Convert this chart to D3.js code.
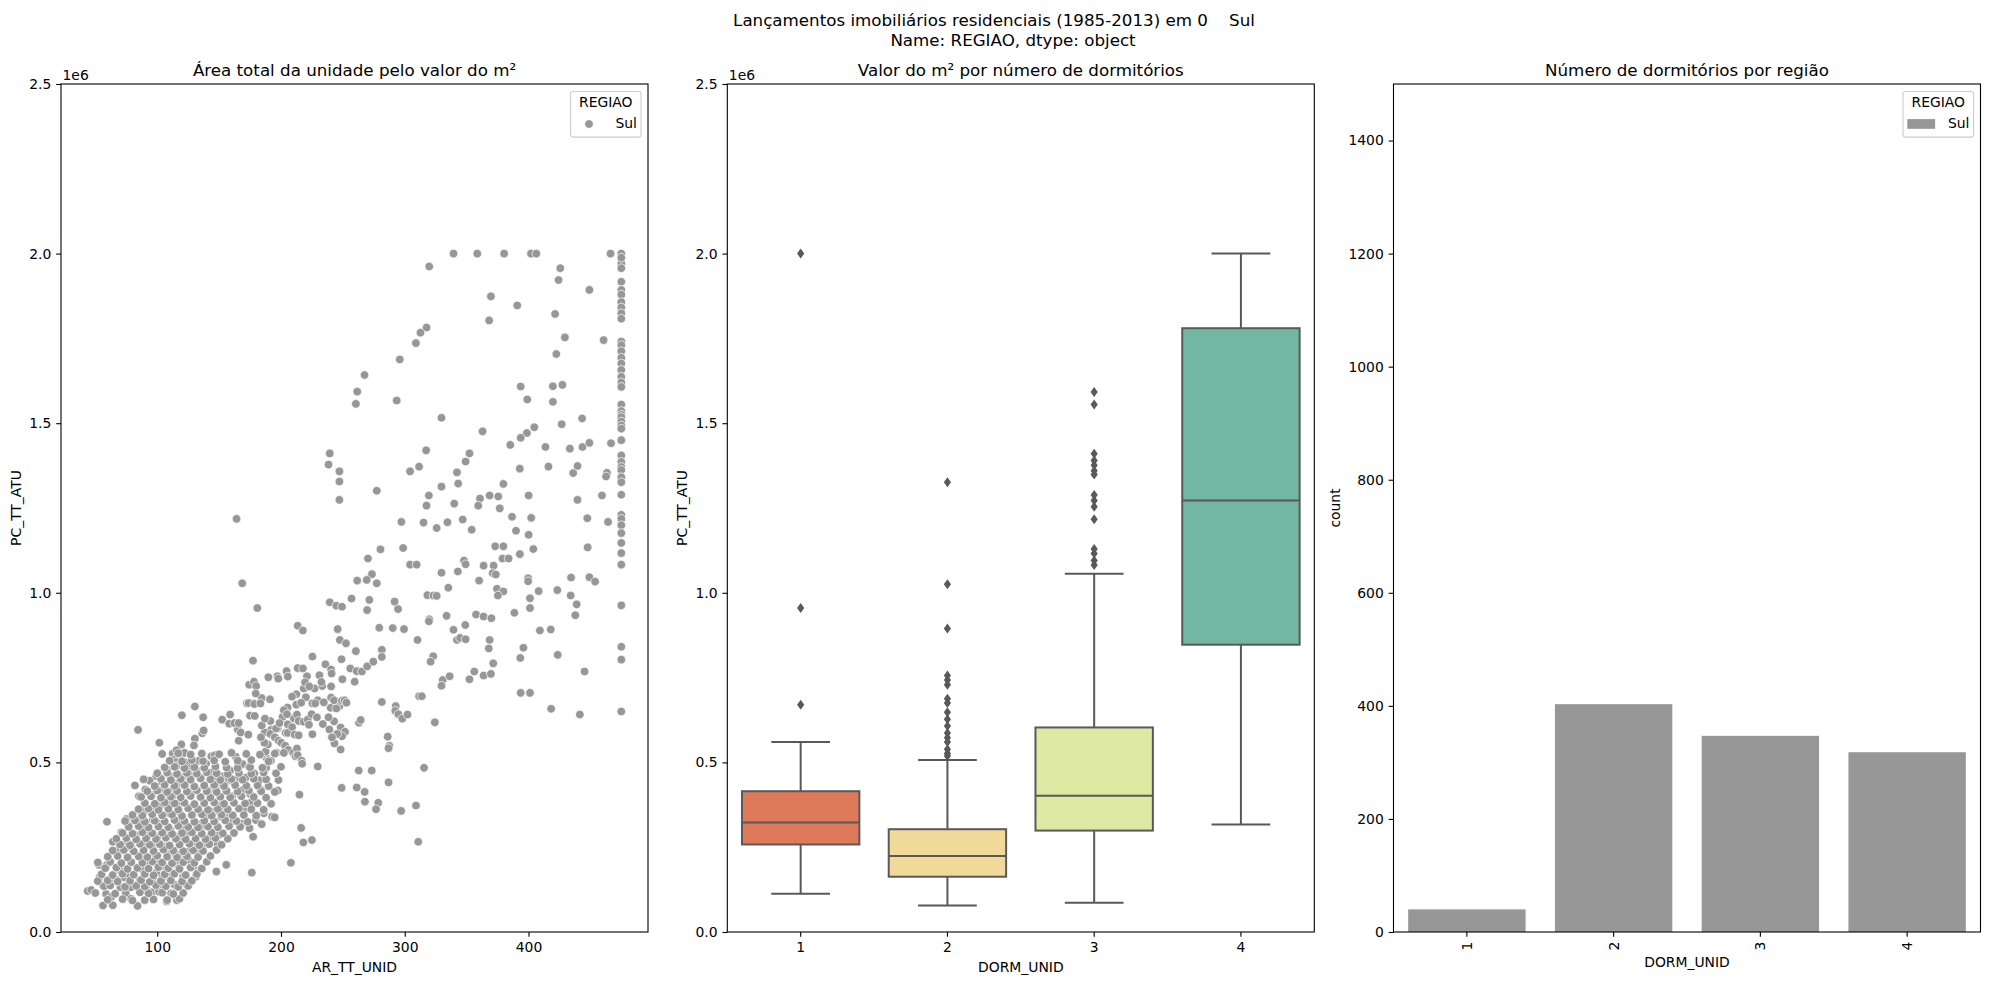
<!DOCTYPE html>
<html><head><meta charset="utf-8">
<script src="https://cdn.jsdelivr.net/npm/d3@7"></script>
<style>
body{margin:0;background:#fff;}
svg text{font-family:"DejaVu Sans","Liberation Sans",sans-serif;fill:#000;}
</style></head><body>
<svg id="chart" width="1989" height="985"></svg>
<script>
// ---------------- DATA ----------------
const suptitleLines = ["Lançamentos imobiliários residenciais (1985-2013) em 0    Sul", "Name: REGIAO, dtype: object"];
const panelTitles = ["Área total da unidade pelo valor do m²", "Valor do m² por número de dormitórios", "Número de dormitórios por região"];
const regionName = "Sul";
const legendTitle = "REGIAO";

// Scatter: AR_TT_UNID (m²) vs PC_TT_ATU (in millions, axis offset 1e6) - sparse part
const arTtUnid = [
339.4,358.6,380.3,402,406.3,466.3,319.8,425.7,424.3,449.2,369.6,390.9,421.5,368.2,317.6,312.7,309,429.4,460.7,422.5,
296,267.5,261.6,260.5,393.7,419.7,427.4,293.5,399,419.7,329.7,443.3,426.8,404.7,398.7,393.7,362.9,385.3,413.7,433.4,
443.6,449.2,466.7,317.3,352.3,349.2,239.4,238.4,247.2,247.2,247.2,304.3,311.6,342.2,343.2,393,416.1,436.1,439.6,463.4,
462.7,379.7,329.7,277.4,319.5,368.6,400.1,459.4,439.6,360.8,375.6,317.6,340,359.4,376.8,386.7,402.2,447.5,464.3,346.8,
334.5,315.2,297.3,325.8,354.1,389.9,400.1,164.1,298.7,280.4,373.1,379.7,403.9,447.8,270.3,304.3,309.6,347.9,349.2,379,
383.9,393,371.8,363.7,329.7,342.9,371.1,373.6,273.5,269.3,277.4,261.6,360.1,399.7,399.7,434.4,449.2,453.8,168.7,335.2,
374.5,379.7,408.2,375.3,318.3,323.2,423.3,434.1,401.2,401.2,438.9,437.8,180.9,239.4,244.7,249.3,257,271.4,269.6,291.8,
294.6,325.8,357.6,363.7,370,333.8,319.8,319.5,348.9,388.6,213.5,217.7,245.8,279.4,290.3,299.4,339.4,409.2,418,247.6,
252.5,281.5,310.3,342.2,344.7,349.2,368.6,367.9,395.9,225.4,177.4,248.9,260.5,281.5,323,320.9,371.5,393.4,423.6,213.5,
217.7,235.9,240.5,256,261.2,265.4,269.6,274.6,204.5,197.1,189.8,221,231.1,240.9,249.6,259.5,356.2,363.7,369.6,352.3,
445.3,330.7,336.3,329.7,174.3,178.2,179.9,218.4,227.1,233.4,240.5,219.5,232.7,212.4,220.1,222.9,240.5,229.7,234.6,184.4,
178.2,172.6,179.6,205.3,212.4,208.9,216.3,225.4,249.3,247.2,281.5,292.7,311.6,313.8,393.7,401.2,292.4,294.9,298,302.2,
324.3,418.3,441.5,210.4,201.2,191.4,197.4,203.8,192.1,186.8,233.8,242.9,248.2,239.1,251.7,263,264.4,249.3,243.2,248.2,
286.2,287.6,286.9,315.6,262.8,273.3,286.9,267.6,249,261.2,214.9,197.4,165.1,165.8,167.5,173.6,163.4,165.5,169,174.3,
178.5,170.4,164.8,182.4,183.4,175,168.3,171.4,158.9,153.2,157.4,160.5,188.3,188,185.5,187.6,191.8,189.4,186.6,183.8,
184.5,187,191.4,196,198.8,202.3,204.8,205.5,205.5,209,212.9,214.3,211.1,195,198.1,200.2,203.4,205.8,210,211.8,
212.9,213.5,216.7,217.1,229.7,196.3,202.3,214.3,218.4,221.6,224.7,227.6,229,222.6,225.4,238.4,240.2,242.9,244.7,249.3,
251.4,252.9,245.4,241.2,84.5,101.7,119.9,119.5,130.4,137.1,136.4,137.5,130.4,129.7,119.2,112.5,113.9,114.9,115.6,122,
143.7,146.6,152.5,158.9,158.2,162.4,165.8,175,178.8,173.9,178.5,183.4,191.1,197.8,205.5,95.4,101.7,107.7,113.2,112.2,
116.7,122.7,120.3,126.2,131.4,135.3,137.8,141.3,144.1,149,152.2,147.3,155.3,160.5,135.3,127.4,133.6,139.5,123.7,127.2,
107.9,99.2,93.9,103.7,110.3,90.4,85.2,115.6,
43.8,46.7,52.9,59.4,53.6,56.2,58.7,56.2,64.1,63,59.4,64.1,71,75,76.4,69.2,75.7,79.3,69.6,67.4,
62,73.2,77.5,70.3,74.6,78.9,81.2,78.6,84.1,89.9,85.9,88,87.7,84.4,90.2,85.9,89.9,82.2,88.4,95.7,
97.1,102.2,96.4,101.4,94.6,100,97.5,93.8,99.3,99.3,97.5,102.2,92,95.7,101.4,105.4,104.3,105.1,108,106.2,
110.5,110.1,112,119.2,117.4,115.9,119.2,115.6,120.7,118.1,114.5,121.4,114.5,117.4,112.3,121,114.1,111.2,115.9,107.6,
125.4,129.3,131.2,123.9,128.3,131.9,125.4,130.8,126.8,133.7,137.3,139.1,142.8,139.9,145.7,148.6,151.8,151.8,150,155.4,
158,160.1,148.6,147.8,155.8,169.9,168.5,174.6,177.5,175.4,179.7,186.2,192.8,194.9,184.4,176.4,216.3,218.1,225,208,
267.8,278.6,276.8,297.1,309.1,310.9,
475,475,475,475,475,475,475,475,475,475,475,475,475,475,475,475,475,475,475,475,
475,475,475,475,475,475,475,475,475,475,475,475,475,475,475,475,475,475,475,475,
475,475,475,475,475,475
];
const pcTtAtu = [
2.0,2.0,2.0,2.0,2.0,2.0,1.962,1.957,1.922,1.893,1.874,1.847,1.822,1.803,1.782,1.767,1.736,1.753,1.745,1.704,
1.688,1.642,1.593,1.557,1.608,1.609,1.613,1.567,1.570,1.563,1.516,1.514,1.497,1.488,1.471,1.457,1.476,1.436,1.430,1.425,
1.430,1.442,1.441,1.420,1.411,1.387,1.411,1.378,1.358,1.328,1.274,1.358,1.372,1.355,1.322,1.366,1.372,1.353,1.374,1.354,
1.343,1.321,1.313,1.301,1.287,1.287,1.287,1.287,1.274,1.278,1.284,1.257,1.263,1.257,1.249,1.224,1.221,1.220,1.209,1.216,
1.208,1.207,1.209,1.191,1.186,1.183,1.171,1.218,1.132,1.128,1.137,1.137,1.129,1.134,1.101,1.083,1.083,1.095,1.084,1.101,
1.101,1.114,1.080,1.080,1.059,1.063,1.058,1.054,1.055,1.038,1.028,1.036,1.036,1.043,1.034,1.045,1.046,1.033,1.028,1.015,
1.012,1.004,1.005,0.992,0.993,0.992,1.008,0.992,0.984,0.955,0.966,0.934,0.955,0.972,0.962,0.959,0.983,0.979,0.949,0.974,
0.952,0.991,0.936,0.930,0.925,0.932,0.922,0.916,0.905,0.941,0.903,0.889,0.893,0.897,0.896,0.893,0.891,0.889,0.892,0.861,
0.851,0.832,0.861,0.861,0.867,0.863,0.861,0.836,0.838,0.812,0.800,0.804,0.828,0.811,0.813,0.797,0.792,0.808,0.817,0.778,
0.777,0.789,0.774,0.777,0.769,0.768,0.783,0.797,0.769,0.754,0.751,0.754,0.757,0.762,0.745,0.738,0.768,0.756,0.761,0.745,
0.768,0.743,0.754,0.726,0.729,0.738,0.725,0.718,0.718,0.725,0.724,0.736,0.737,0.701,0.692,0.724,0.691,0.683,0.677,0.690,
0.674,0.674,0.703,0.662,0.670,0.694,0.676,0.674,0.678,0.666,0.678,0.666,0.695,0.695,0.705,0.705,0.652,0.642,0.629,0.641,
0.618,0.658,0.641,0.630,0.634,0.622,0.601,0.587,0.596,0.588,0.613,0.621,0.603,0.597,0.590,0.617,0.625,0.577,0.556,0.538,
0.576,0.549,0.542,0.484,0.476,0.476,0.441,0.413,0.425,0.426,0.405,0.417,0.597,0.564,0.588,0.582,0.517,0.495,0.495,0.486,
0.467,0.446,0.451,0.447,0.421,0.407,0.417,0.455,0.476,0.459,0.447,0.446,0.513,0.484,0.525,0.532,0.505,0.553,0.558,0.574,
0.609,0.629,0.584,0.600,0.616,0.654,0.642,0.612,0.587,0.604,0.641,0.622,0.582,0.574,0.564,0.558,0.549,0.537,0.528,0.518,
0.541,0.521,0.505,0.496,0.488,0.528,0.528,0.580,0.620,0.626,0.642,0.674,0.633,0.611,0.583,0.633,0.661,0.683,0.659,0.682,
0.683,0.676,0.584,0.574,0.596,0.558,0.639,0.553,0.665,0.633,0.586,0.594,0.570,0.550,0.522,0.526,0.509,0.501,0.489,0.528,
0.518,0.521,0.626,0.641,0.614,0.616,0.616,0.638,0.637,0.675,0.672,0.674,0.686,0.747,0.753,0.404,0.417,0.409,0.424,0.400,
0.439,0.433,0.457,0.463,0.479,0.453,0.430,0.416,0.470,0.455,0.439,0.420,0.417,0.400,0.397,0.407,0.505,0.496,0.499,0.484,
0.479,0.459,0.446,0.443,0.459,0.420,0.400,0.536,
0.121,0.124,0.198,0.198,0.163,0.136,0.112,0.078,0.079,0.104,0.325,0.266,0.294,0.333,0.315,0.244,0.266,0.247,0.183,0.153,
0.156,0.161,0.168,0.132,0.114,0.098,0.136,0.132,0.077,0.094,0.153,0.185,0.212,0.358,0.358,0.333,0.306,0.286,0.261,0.255,
0.370,0.371,0.330,0.320,0.289,0.279,0.232,0.207,0.202,0.175,0.153,0.148,0.124,0.117,0.119,0.134,0.161,0.195,0.229,0.252,
0.301,0.350,0.379,0.384,0.355,0.327,0.306,0.281,0.281,0.256,0.232,0.232,0.207,0.188,0.168,0.163,0.139,0.114,0.094,0.090,
0.212,0.193,0.163,0.139,0.345,0.320,0.293,0.266,0.242,0.237,0.315,0.340,0.281,0.261,0.355,0.311,0.374,0.340,0.286,0.365,
0.338,0.325,0.261,0.178,0.198,0.360,0.320,0.306,0.281,0.381,0.330,0.350,0.340,0.338,0.318,0.175,0.307,0.264,0.271,0.204,
0.384,0.381,0.362,0.357,0.373,0.266,
2.0,1.971,1.957,1.917,1.893,1.879,1.857,1.841,1.824,1.808,1.741,1.730,1.712,1.693,1.676,1.657,1.637,1.620,1.607,1.555,
1.536,1.525,1.518,1.505,1.493,1.484,1.450,1.405,1.386,1.371,1.362,1.341,1.326,1.289,1.230,1.218,1.199,1.176,1.147,1.117,
1.083,0.963,0.841,0.803,0.650,1.988
];

// Dense lower-left cluster, read row by row from the overlapping blob
const clusterAr = [
60,72,80,97,108,118,
50,66,86,93,104,113,121,
57,62,74,83,90,99,107,117,125,
52,60,68,78,87,94,103,111,120,128,
55,64,72,81,90,97,106,114,123,132,
58,67,76,84,93,101,109,118,127,136,
52,62,71,79,88,96,104,112,121,130,140,
60,68,76,85,92,100,108,116,124,133,143,
64,73,81,89,97,105,113,121,129,137,148,
70,78,86,94,102,110,118,126,134,142,152,
67,75,83,91,99,107,115,123,131,139,147,157,
72,80,88,96,104,112,120,128,136,144,153,162,
77,85,93,101,109,117,125,133,141,149,158,167,
74,82,90,98,106,114,122,130,138,146,155,164,173,
80,88,96,104,112,120,128,136,144,152,161,170,180,
85,93,101,109,117,125,133,141,149,157,166,176,186,
90,98,106,114,122,130,138,146,154,162,171,181,192,
87,95,103,111,119,127,135,143,151,159,168,178,188,
92,100,108,116,124,132,140,148,156,165,174,184,195,
82,98,106,114,122,130,138,146,154,163,172,181,190,
89,103,111,119,127,135,143,151,160,169,178,188,198,
100,108,116,124,132,140,148,157,166,176,186,196,
106,114,122,130,138,147,156,165,175,185,200,
110,120,128,137,146,155,165,176,190,
104,117,127,136,150,160,172,183,195
];
const clusterPc = [
0.095,0.097,0.093,0.096,0.094,0.098,
0.115,0.113,0.117,0.114,0.116,0.112,0.115,
0.135,0.137,0.133,0.136,0.134,0.138,0.135,0.133,0.136,
0.150,0.152,0.149,0.151,0.153,0.148,0.150,0.152,0.149,0.151,
0.170,0.168,0.172,0.169,0.171,0.167,0.170,0.172,0.168,0.171,
0.188,0.190,0.186,0.189,0.187,0.191,0.188,0.186,0.190,0.187,
0.205,0.207,0.203,0.206,0.204,0.208,0.205,0.203,0.206,0.204,0.207,
0.222,0.224,0.220,0.223,0.221,0.225,0.222,0.220,0.223,0.221,0.224,
0.240,0.242,0.238,0.241,0.239,0.243,0.240,0.238,0.241,0.239,0.242,
0.258,0.256,0.260,0.257,0.259,0.255,0.258,0.260,0.256,0.259,0.257,
0.275,0.277,0.273,0.276,0.274,0.278,0.275,0.273,0.276,0.274,0.277,0.275,
0.292,0.290,0.294,0.291,0.293,0.289,0.292,0.294,0.290,0.293,0.291,0.292,
0.310,0.312,0.308,0.311,0.309,0.313,0.310,0.308,0.311,0.309,0.312,0.310,
0.327,0.329,0.325,0.328,0.326,0.330,0.327,0.325,0.328,0.326,0.329,0.327,0.325,
0.345,0.343,0.347,0.344,0.346,0.342,0.345,0.347,0.343,0.346,0.344,0.345,0.343,
0.362,0.364,0.360,0.363,0.361,0.365,0.362,0.360,0.363,0.361,0.364,0.362,0.360,
0.380,0.378,0.382,0.379,0.381,0.377,0.380,0.382,0.378,0.381,0.379,0.380,0.378,
0.398,0.400,0.396,0.399,0.397,0.401,0.398,0.396,0.399,0.397,0.400,0.398,0.396,
0.415,0.417,0.413,0.416,0.414,0.418,0.415,0.413,0.416,0.414,0.417,0.415,0.413,
0.432,0.430,0.434,0.431,0.433,0.429,0.432,0.434,0.430,0.433,0.431,0.432,0.430,
0.450,0.452,0.448,0.451,0.449,0.453,0.450,0.448,0.451,0.449,0.452,0.450,0.448,
0.468,0.470,0.466,0.469,0.467,0.471,0.468,0.466,0.469,0.467,0.470,0.468,
0.485,0.487,0.483,0.486,0.484,0.488,0.485,0.483,0.486,0.484,0.487,
0.505,0.503,0.507,0.504,0.506,0.502,0.505,0.507,0.503,
0.525,0.527,0.523,0.526,0.524,0.528,0.525,0.523,0.526
];

// Boxplot: PC_TT_ATU (millions) by DORM_UNID
const dormCategories = ["1", "2", "3", "4"];
const boxWhiskerLow = [0.113, 0.078, 0.086, 0.317];
const boxQ1 = [0.258, 0.163, 0.299, 0.847];
const boxMedian = [0.323, 0.224, 0.402, 1.272];
const boxQ3 = [0.415, 0.303, 0.603, 1.780];
const boxWhiskerHigh = [0.560, 0.507, 1.056, 2.0];
const boxOutliers = [
  [2.0, 0.955, 0.670],
  [1.326, 1.025, 0.895, 0.756, 0.743, 0.729, 0.688, 0.675, 0.648, 0.627, 0.607, 0.587, 0.573, 0.560, 0.539, 0.526, 0.519],
  [1.592, 1.555, 1.410, 1.390, 1.376, 1.360, 1.349, 1.288, 1.272, 1.254, 1.217, 1.129, 1.116, 1.095, 1.082],
  []
];
const boxColors = ["#de795a", "#f0d999", "#dee9a4", "#71b7a1"];

// Countplot
const dormCounts = [40, 403, 347, 318];

const scatterYTicks = [0, 0.5, 1.0, 1.5, 2.0, 2.5];
const scatterXTicks = [100, 200, 300, 400];
const countTicks = [0, 200, 400, 600, 800, 1000, 1200, 1400];

// ---------------- LAYOUT ----------------
const svg = d3.select("#chart");
const FS = 13.9, TFS = 16.7;
const axTop = 84, axBottom = 932;
const panelLeft = [61, 727.3, 1393.5];
const panelW = 587;
const TICK = 4.86, PAD = 4.86;
const GRAY = "#979797";
const LINE = "#595959";

// suptitle
svg.append("text").attr("x", 994).attr("y", 26).attr("text-anchor", "middle")
  .style("font-size", TFS + "px").style("white-space", "pre").text(suptitleLines[0]);
svg.append("text").attr("x", 1013).attr("y", 46).attr("text-anchor", "middle")
  .style("font-size", TFS + "px").text(suptitleLines[1]);

function styleAxis(g) {
  g.select(".domain").remove();
  g.selectAll(".tick line").attr("stroke", "#000").attr("stroke-width", 1.1);
  g.selectAll(".tick text").style("font-size", FS + "px").style("font-family", '"DejaVu Sans",sans-serif').attr("fill", "#000");
}
function frame(i) {
  svg.append("rect").attr("x", panelLeft[i]).attr("y", axTop).attr("width", panelW).attr("height", axBottom - axTop)
    .attr("fill", "none").attr("stroke", "#000").attr("stroke-width", 1.1);
}
function title(i) {
  svg.append("text").attr("x", panelLeft[i] + panelW / 2).attr("y", 75.7).attr("text-anchor", "middle")
    .style("font-size", TFS + "px").text(panelTitles[i]);
}
function ylabel(x, text) {
  svg.append("text").attr("transform", `translate(${x},${(axTop + axBottom) / 2}) rotate(-90)`)
    .attr("text-anchor", "middle").style("font-size", FS + "px").text(text);
}
function xlabel(i, y, text) {
  svg.append("text").attr("x", panelLeft[i] + panelW / 2).attr("y", y).attr("text-anchor", "middle")
    .style("font-size", FS + "px").text(text);
}
function legendFrame(i) {
  const right = panelLeft[i] + panelW - 6.9;
  const w = 70.6, h = 45.6, x0 = right - w, y0 = axTop + 7.5;
  svg.append("rect").attr("x", x0).attr("y", y0).attr("width", w).attr("height", h).attr("rx", 2.8)
    .attr("fill", "#fff").attr("fill-opacity", 0.8).attr("stroke", "#cccccc").attr("stroke-width", 1.1);
  svg.append("text").attr("x", x0 + w / 2).attr("y", y0 + 15.6).attr("text-anchor", "middle")
    .style("font-size", FS + "px").text(legendTitle);
  svg.append("text").attr("x", x0 + 45).attr("y", y0 + 36.8).style("font-size", FS + "px").text(regionName);
  return {x0, y0};
}

// ---------- Panel 1: scatter ----------
{
  const i = 0;
  const allAr = arTtUnid.concat(clusterAr);
  const allPc = pcTtAtu.concat(clusterPc);
  const ext = d3.extent(allAr);
  const padX = (ext[1] - ext[0]) * 0.05;
  const x = d3.scaleLinear().domain([ext[0] - padX, ext[1] + padX]).range([panelLeft[i], panelLeft[i] + panelW]);
  const y = d3.scaleLinear().domain([0, 2.5]).range([axBottom, axTop]);
  const pts = allAr.map((a, k) => [a, allPc[k]]);
  svg.append("g").selectAll("circle").data(pts).join("circle")
    .attr("cx", d => x(d[0])).attr("cy", d => y(d[1])).attr("r", 4.3)
    .attr("fill", GRAY).attr("stroke", "#fff").attr("stroke-width", 0.7);
  frame(i);
  svg.append("g").attr("transform", `translate(${panelLeft[i]},0)`)
    .call(d3.axisLeft(y).tickValues(scatterYTicks).tickFormat(d3.format(".1f")).tickSize(TICK).tickPadding(PAD)).call(styleAxis);
  svg.append("g").attr("transform", `translate(0,${axBottom})`)
    .call(d3.axisBottom(x).tickValues(scatterXTicks).tickFormat(d3.format("d")).tickSize(TICK).tickPadding(PAD)).call(styleAxis);
  svg.append("text").attr("x", panelLeft[i] + 1.5).attr("y", 80).style("font-size", FS + "px").text("1e6");
  title(i);
  ylabel(20.5, "PC_TT_ATU");
  xlabel(i, 972, "AR_TT_UNID");
  const L = legendFrame(i);
  svg.append("circle").attr("cx", L.x0 + 18.5).attr("cy", L.y0 + 32.5).attr("r", 4.3)
    .attr("fill", GRAY).attr("stroke", "#fff").attr("stroke-width", 0.7);
}

// ---------- Panel 2: boxplot ----------
{
  const i = 1;
  const x = d3.scaleBand().domain(dormCategories).range([panelLeft[i], panelLeft[i] + panelW]).paddingInner(0.2).paddingOuter(0.1);
  const y = d3.scaleLinear().domain([0, 2.5]).range([axBottom, axTop]);
  const step = x.step();
  dormCategories.forEach((c, k) => {
    const g = svg.append("g");
    const cx = x(c) + x.bandwidth() / 2;
    const capHalf = step * 0.2;
    g.append("line").attr("x1", cx).attr("x2", cx).attr("y1", y(boxQ3[k])).attr("y2", y(boxWhiskerHigh[k]))
      .attr("stroke", LINE).attr("stroke-width", 2);
    g.append("line").attr("x1", cx).attr("x2", cx).attr("y1", y(boxQ1[k])).attr("y2", y(boxWhiskerLow[k]))
      .attr("stroke", LINE).attr("stroke-width", 2);
    [boxWhiskerHigh[k], boxWhiskerLow[k]].forEach(v => {
      g.append("line").attr("x1", cx - capHalf).attr("x2", cx + capHalf).attr("y1", y(v)).attr("y2", y(v))
        .attr("stroke", LINE).attr("stroke-width", 2);
    });
    g.append("rect").attr("x", x(c)).attr("width", x.bandwidth())
      .attr("y", y(boxQ3[k])).attr("height", y(boxQ1[k]) - y(boxQ3[k]))
      .attr("fill", boxColors[k]).attr("stroke", LINE).attr("stroke-width", 2);
    g.append("line").attr("x1", x(c)).attr("x2", x(c) + x.bandwidth()).attr("y1", y(boxMedian[k])).attr("y2", y(boxMedian[k]))
      .attr("stroke", LINE).attr("stroke-width", 2);
    g.selectAll("path.fl").data(boxOutliers[k]).join("path").attr("class", "fl")
      .attr("d", v => `M${cx},${y(v) - 5} L${cx + 3.6},${y(v)} L${cx},${y(v) + 5} L${cx - 3.6},${y(v)} Z`)
      .attr("fill", LINE);
  });
  frame(i);
  svg.append("g").attr("transform", `translate(${panelLeft[i]},0)`)
    .call(d3.axisLeft(y).tickValues(scatterYTicks).tickFormat(d3.format(".1f")).tickSize(TICK).tickPadding(PAD)).call(styleAxis);
  svg.append("g").attr("transform", `translate(0,${axBottom})`)
    .call(d3.axisBottom(x).tickSize(TICK).tickPadding(PAD)).call(styleAxis);
  svg.append("text").attr("x", panelLeft[i] + 1.5).attr("y", 80).style("font-size", FS + "px").text("1e6");
  title(i);
  ylabel(686.5, "PC_TT_ATU");
  xlabel(i, 972, "DORM_UNID");
}

// ---------- Panel 3: countplot ----------
{
  const i = 2;
  const x = d3.scaleBand().domain(dormCategories).range([panelLeft[i], panelLeft[i] + panelW]).paddingInner(0.2).paddingOuter(0.1);
  const y = d3.scaleLinear().domain([0, 1500]).range([axBottom, axTop]);
  svg.append("g").selectAll("rect").data(dormCategories).join("rect")
    .attr("x", d => x(d)).attr("width", x.bandwidth())
    .attr("y", (d, k) => y(dormCounts[k])).attr("height", (d, k) => axBottom - y(dormCounts[k]))
    .attr("fill", GRAY);
  frame(i);
  svg.append("g").attr("transform", `translate(${panelLeft[i]},0)`)
    .call(d3.axisLeft(y).tickValues(countTicks).tickFormat(d3.format("d")).tickSize(TICK).tickPadding(PAD)).call(styleAxis);
  const gx = svg.append("g").attr("transform", `translate(0,${axBottom})`)
    .call(d3.axisBottom(x).tickSize(TICK).tickPadding(PAD)).call(styleAxis);
  gx.selectAll(".tick text").attr("y", 0).attr("dy", null)
    .attr("transform", `translate(0,${TICK + PAD}) rotate(-90)`)
    .attr("text-anchor", "end").attr("dominant-baseline", "central");
  title(i);
  ylabel(1339.5, "count");
  xlabel(i, 967, "DORM_UNID");
  const L = legendFrame(i);
  svg.append("rect").attr("x", L.x0 + 4.3).attr("y", L.y0 + 27.6).attr("width", 27.8).attr("height", 9.7).attr("fill", GRAY);
}
</script></body></html>
